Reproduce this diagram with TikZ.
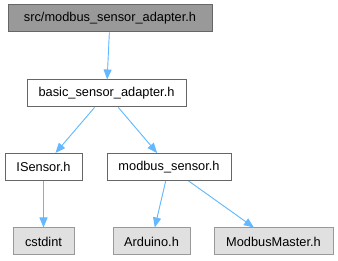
\documentclass[tikz,border=0pt]{standalone}
\usepackage{fontspec}
\setmainfont{Liberation Sans}
\usepackage{tikz}
\usetikzlibrary{positioning,arrows.meta}
\definecolor{edgeblue}{HTML}{63B8FF}
\tikzset{file node/.style={rectangle, draw=black!60, fill=white, line width=1pt, minimum height=27pt, inner sep=0pt, font=\fontsize{12.8}{14}\selectfont},
  root node/.style={file node, fill=black!40, draw=black!60},
  sys node/.style={file node, fill=black!12, draw=black!40},
  dep/.style={-{Triangle[length=10pt,width=8pt]}, draw=edgeblue, fill=edgeblue, line width=0.9pt},}

\begin{document}
\begin{tikzpicture}[x=1pt, y=-1pt]
        \useasboundingbox (0,0) rectangle (338,261);
        % Nodes
        \node[root node, minimum width=204pt] (src) at (110,18.5) {src/modbus\_sensor\_adapter.h};
        \node[file node, minimum width=159pt] (basic) at (106.5,93.5) {basic\_sensor\_adapter.h};
        \node[file node, minimum width=77pt] (isensor) at (43.5,167) {ISensor.h};
        \node[file node, minimum width=124pt] (modbus) at (169,167) {modbus\_sensor.h};
        \node[sys node, minimum width=61pt] (cstdint) at (43.5,241.5) {cstdint};
        \node[sys node, minimum width=77pt] (arduino) at (151.5,241.5) {Arduino.h};
        \node[sys node, minimum width=119pt] (master) at (273.5,241.5) {ModbusMaster.h};
        % Includes
        \draw[dep] (src) -- (basic);
        \draw[dep] (basic) -- (isensor);
        \draw[dep] (basic) -- (modbus);
        \draw[dep] (isensor) -- (cstdint);
        \draw[dep] (modbus) -- (arduino);
        \draw[dep] (modbus) -- (master);
    \end{tikzpicture}
\end{document}
